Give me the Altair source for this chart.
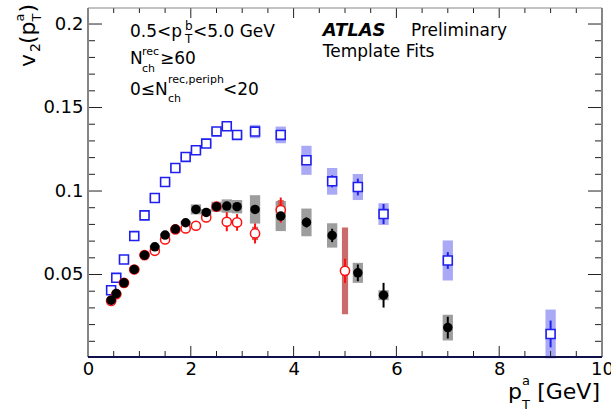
import altair as alt
import pandas as pd

# ---------------- data ----------------
pt_blue = [0.45, 0.55, 0.7, 0.9, 1.1, 1.3, 1.5, 1.7, 1.9, 2.1, 2.3, 2.5, 2.7, 2.9,
           3.25, 3.75, 4.25, 4.75, 5.25, 5.75, 7.0, 9.0]
v2_blue = [0.0406, 0.0480, 0.0590, 0.0730, 0.0854, 0.0958, 0.1054, 0.1138, 0.1204, 0.1244,
           0.1284, 0.1357, 0.1388, 0.1336, 0.1356, 0.1336, 0.1184, 0.1058, 0.1024, 0.0862,
           0.0584, 0.0144]
stat_blue = [0.0004, 0.0004, 0.0004, 0.0004, 0.0004, 0.0004, 0.0005, 0.0005, 0.0005, 0.0006,
             0.0006, 0.0007, 0.0008, 0.0009, 0.0010, 0.0015, 0.0020, 0.0036, 0.0050, 0.0060,
             0.0050, 0.0080]
sys_blue = [0.0015, 0.0012, 0.0010, 0.0010, 0.0010, 0.0010, 0.0010, 0.0010, 0.0012, 0.0012,
            0.0015, 0.0020, 0.0020, 0.0020, 0.0040, 0.0050, 0.0087, 0.0080, 0.0078, 0.0065,
            0.0120, 0.0146]

pt_black = [0.45, 0.55, 0.7, 0.9, 1.1, 1.3, 1.5, 1.7, 1.9, 2.1, 2.3, 2.5, 2.7, 2.9,
            3.25, 3.75, 4.25, 4.75, 5.25, 5.75, 7.0]
v2_black = [0.0346, 0.0386, 0.0450, 0.0530, 0.0616, 0.0666, 0.0736, 0.0772, 0.0810, 0.0890,
            0.0872, 0.0906, 0.0910, 0.0906, 0.0890, 0.0850, 0.0812, 0.0734, 0.0510, 0.0376,
            0.0182]
stat_black = [0.0005, 0.0005, 0.0005, 0.0005, 0.0005, 0.0006, 0.0007, 0.0008, 0.0010, 0.0015,
              0.0015, 0.0020, 0.0020, 0.0020, 0.0020, 0.0030, 0.0030, 0.0040, 0.0050, 0.0074,
              0.0065]
sys_black = [0.0010, 0.0010, 0.0010, 0.0010, 0.0010, 0.0010, 0.0010, 0.0010, 0.0012, 0.0030,
             0.0020, 0.0030, 0.0040, 0.0040, 0.0085, 0.0090, 0.0083, 0.0073, 0.0060, 0.0030,
             0.0077]

pt_red = [0.45, 0.55, 0.7, 0.9, 1.1, 1.3, 1.5, 1.7, 1.9, 2.1, 2.3, 2.5, 2.7, 2.9,
          3.25, 3.75, 5.0]
v2_red = [0.0342, 0.0382, 0.0450, 0.0530, 0.0616, 0.0642, 0.0710, 0.0770, 0.0776, 0.0792,
          0.0842, 0.0906, 0.0816, 0.0812, 0.0746, 0.0886, 0.0522]
stat_red = [0.0006, 0.0006, 0.0006, 0.0006, 0.0007, 0.0008, 0.0009, 0.0010, 0.0012, 0.0015,
            0.0020, 0.0030, 0.0057, 0.0050, 0.0060, 0.0075, 0.0073]
sys_red = [0.0010, 0.0010, 0.0010, 0.0010, 0.0010, 0.0010, 0.0010, 0.0010, 0.0010, 0.0010,
           0.0015, 0.0020, 0.0020, 0.0020, 0.0040, 0.0060, 0.0260]

x_major = [0, 2, 4, 6, 8, 10]
x_minor = [0.5, 1, 1.5, 2.5, 3, 3.5, 4.5, 5, 5.5, 6.5, 7, 7.5, 8.5, 9, 9.5]
y_major = [0.05, 0.1, 0.15, 0.2]
y_minor = [0.01, 0.02, 0.03, 0.04, 0.06, 0.07, 0.08, 0.09, 0.11, 0.12, 0.13, 0.14,
           0.16, 0.17, 0.18, 0.19]

# ---------------- layout ----------------
W, H = 514, 349
FONT = "DejaVu Sans"
BLUE = "#1f1ff0"
BLUE_BAND = "#9a9af5"
GREY_BAND = "#8c8c8c"
RED = "#ff1010"
RED_BAND = "#c86464"

xs = alt.Scale(domain=[0, 10], nice=False, zero=False)
ys = alt.Scale(domain=[0.0006, 0.2096], nice=False, zero=False)
x_axis = alt.Axis(values=x_major, ticks=False, domain=False, grid=False, labelFont=FONT,
                  labelFontSize=18, labelPadding=3, title=None, labelColor="black",
                  format="d", labelFlush=False, labelOverlap=False)
y_axis = alt.Axis(values=y_major, ticks=False, domain=False, grid=False, labelFont=FONT,
                  labelFontSize=18, labelPadding=5, title=None, labelColor="black",
                  format="~g", labelOverlap=False)


def X(f):
    return alt.X(f, type="quantitative", scale=xs, axis=x_axis)


def Y(f):
    return alt.Y(f, type="quantitative", scale=ys, axis=y_axis)


def frame_df(pt, v2, stat, sys, hw):
    df = pd.DataFrame({"pt": pt, "v2": v2, "stat": stat, "sys": sys})
    df["lo"] = df.v2 - df.stat
    df["hi"] = df.v2 + df.stat
    df["slo"] = df.v2 - df.sys
    df["shi"] = df.v2 + df.sys
    df["xl"] = df.pt - hw
    df["xr"] = df.pt + hw
    return df


blue = frame_df(pt_blue, v2_blue, stat_blue, sys_blue, 0.1)
black = frame_df(pt_black, v2_black, stat_black, sys_black, 0.1)
red = frame_df(pt_red, v2_red, stat_red, sys_red, 0.06)


def band(df, color, op):
    return alt.Chart(df).mark_rect(color=color, opacity=op).encode(
        x=X("xl"), x2="xr", y=Y("slo"), y2="shi")


def err(df, color):
    return alt.Chart(df).mark_rule(color=color, strokeWidth=2).encode(
        x=X("pt"), y=Y("lo"), y2="hi")


layers = [
    band(blue, BLUE_BAND, 0.85),
    band(black, GREY_BAND, 0.85),
    band(red, RED_BAND, 0.95),
    err(blue, BLUE),
    err(black, "black"),
    err(red, RED),
    alt.Chart(blue).mark_point(shape="square", filled=True, fill="white", stroke=BLUE,
                               strokeWidth=1.6, size=80, opacity=1).encode(x=X("pt"), y=Y("v2")),
    alt.Chart(red).mark_point(shape="circle", filled=True, fill="white", stroke=RED,
                              strokeWidth=1.5, size=85, opacity=1).encode(x=X("pt"), y=Y("v2")),
    alt.Chart(black).mark_point(shape="circle", filled=True, color="black",
                                size=90, opacity=1).encode(x=X("pt"), y=Y("v2")),
]

one = pd.DataFrame({"a": [0]})
TICK = "#222222"


def xticks(vals, length):
    d = pd.DataFrame({"t": vals})
    bot = alt.Chart(d).mark_rule(color=TICK, strokeWidth=1).encode(
        x=X("t"), y=alt.value(H), y2=alt.value(H - length))
    top = alt.Chart(d).mark_rule(color=TICK, strokeWidth=1).encode(
        x=X("t"), y=alt.value(0), y2=alt.value(length - 1))
    return [bot, top]


def yticks(vals, length):
    d = pd.DataFrame({"t": vals})
    left = alt.Chart(d).mark_rule(color=TICK, strokeWidth=1).encode(
        y=Y("t"), x=alt.value(0), x2=alt.value(length))
    right = alt.Chart(d).mark_rule(color=TICK, strokeWidth=1).encode(
        y=Y("t"), x=alt.value(W), x2=alt.value(W - length))
    return [left, right]


layers += xticks(x_major, 11) + xticks(x_minor, 6) + yticks(y_major, 14) + yticks(y_minor, 7)


def fr(x1, x2, y1, y2, color, w):
    return alt.Chart(one).mark_rule(color=color, strokeWidth=w).encode(
        x=alt.value(x1), x2=alt.value(x2), y=alt.value(y1), y2=alt.value(y2))


layers += [
    fr(0, 0, 0, H, "#858585", 2),
    fr(W, W, 0, H, "#858585", 2),
    fr(0, W, 0, 0, "#858585", 1),
    fr(0, W, H, H, "#10104a", 2),
]

OX, OY = 88, 8


def label(text, x, y, size, angle=0, weight="normal", style="normal", align="left"):
    kw = dict(font=FONT, fontSize=size, align=align, baseline="alphabetic", color="black",
              fontWeight=weight, fontStyle=style)
    if angle:
        kw["angle"] = angle
    return alt.Chart(one).mark_text(**kw).encode(
        x=alt.value(x - OX), y=alt.value(y - OY), text=alt.value(text))


layers += [
    # line 1
    label("0.5<p", 130, 36.7, 17),
    label("b", 185, 30, 12),
    label("T", 185, 43, 12),
    label("<5.0 GeV", 193, 36.7, 17),
    # line 2
    label("N", 130, 64, 17),
    label("rec", 142, 55, 11),
    label("ch", 142, 71.5, 11),
    label("≥60", 160, 64, 17),
    # line 3
    label("0≤N", 130, 95, 17),
    label("rec,periph", 168, 83, 11),
    label("ch", 168, 102, 11),
    label("<20", 223, 95, 17),
    # ATLAS
    label("ATLAS", 322.7, 36, 18, weight="bold", style="italic"),
    label("Preliminary", 411, 36, 17),
    label("Template Fits", 322.7, 57, 17),
    # x title
    label("p", 508, 399, 22),
    label("a", 522, 385, 13),
    label("T", 522, 409, 13),
    label("[GeV]", 600, 399, 22, align="right"),
    # y title (rotated)
    label("v", 35, 67, 22, angle=270),
    label("2", 40, 52, 14, angle=270),
    label("(p", 35, 44, 22, angle=270),
    label("a", 24, 21.5, 13, angle=270),
    label("T", 41, 21.5, 13, angle=270),
    label(")", 35, 12.5, 22, angle=270),
]

chart = alt.layer(*layers).properties(
    width=W, height=H,
    autosize=alt.AutoSizeParams(type="none"),
    padding={"left": OX, "top": OY, "right": 611 - OX - W, "bottom": 413 - OY - H},
    background="white",
).configure_view(stroke=None)

chart.save("out.html", embed_options={"renderer": "svg", "actions": False})
